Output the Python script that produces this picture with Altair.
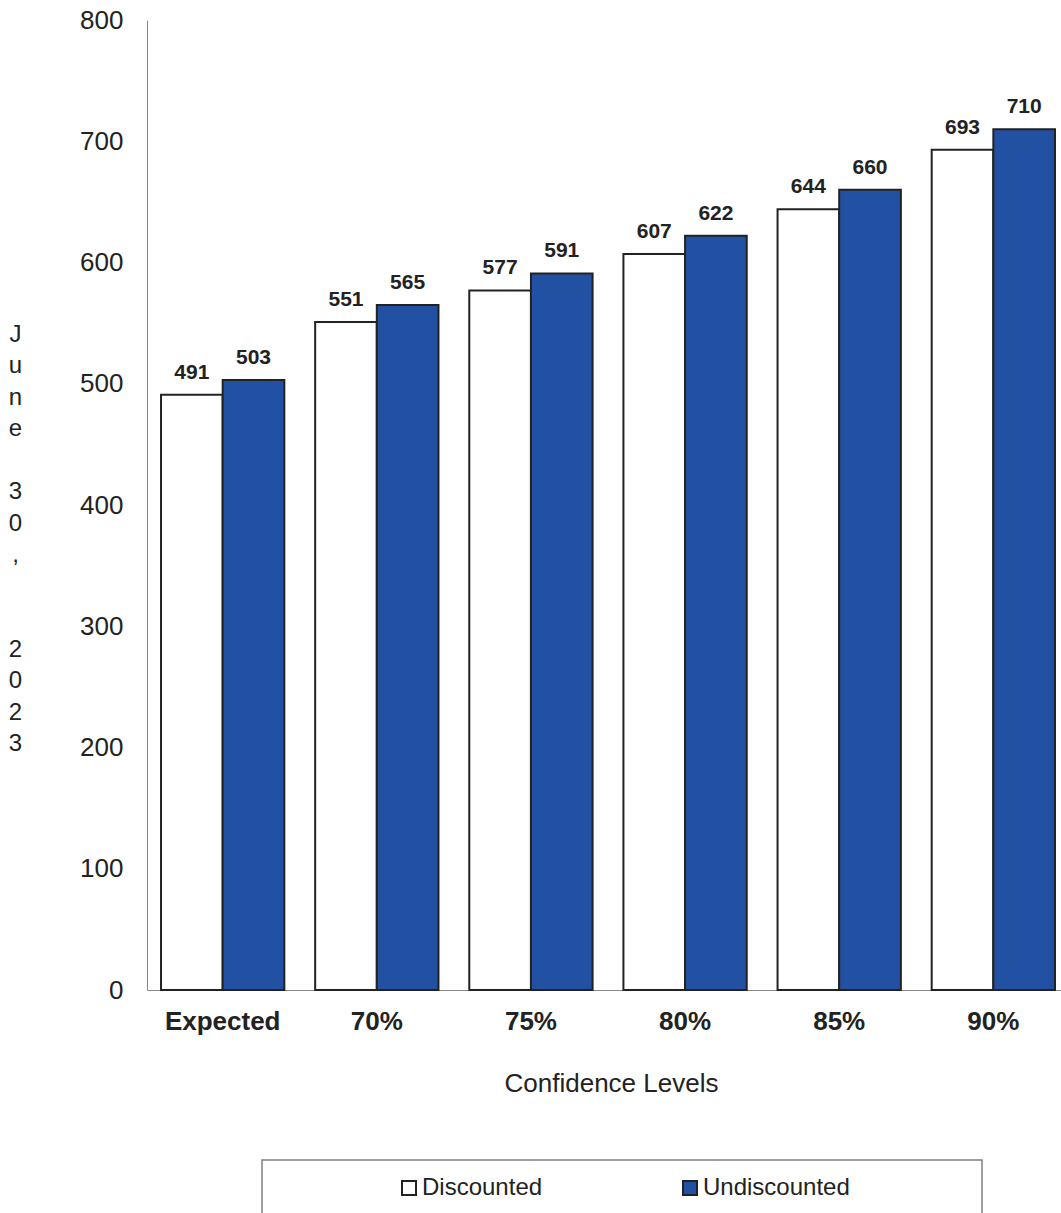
import altair as alt
import pandas as pd

categories = ["Expected", "70%", "75%", "80%", "85%", "90%"]
series = ["Discounted", "Undiscounted"]
discounted = [491, 551, 577, 607, 644, 693]
undiscounted = [503, 565, 591, 622, 660, 710]
y_ticks = [0, 100, 200, 300, 400, 500, 600, 700, 800]
# y title "June 30, 2023", one character per line (blank lines as in the reference)
y_title_lines = ["J", "u", "n", "e", "", "3", "0", ",", "", "", "2", "0", "2", "3"]
x_title_text = "Confidence Levels"
colors = ["#ffffff", "#2251A4"]

rows = []
for c, d, u in zip(categories, discounted, undiscounted):
    rows.append({"level": c, "series": series[0], "value": d})
    rows.append({"level": c, "series": series[1], "value": u})
df = pd.DataFrame(rows)

FONT = "Liberation Sans, Arial, Helvetica, sans-serif"
TXT = "#222222"
BLANK = "\u2800"
title_chars = [ch if ch.strip() else BLANK for ch in y_title_lines]

x_enc = alt.X(
    "level:N",
    sort=categories,
    scale=alt.Scale(paddingInner=0.2, paddingOuter=0.065, align=0.7),
    axis=alt.Axis(
        title=x_title_text,
        labelAngle=0,
        labelFont=FONT,
        labelFontSize=26,
        labelFontWeight="bold",
        labelColor=TXT,
        labelPadding=18,
        ticks=False,
        tickSize=0,
        domainColor="#888888",
        domainWidth=1,
        grid=False,
        titleFont=FONT,
        titleFontSize=26,
        titleFontWeight="normal",
        titleColor=TXT,
        titleX=464,
        titleAlign="center",
        titleY=80,
        titleBaseline="top",
    ),
)
xo_enc = alt.XOffset("series:N", sort=series, scale=alt.Scale(paddingInner=0, paddingOuter=0))
y_enc = alt.Y(
    "value:Q",
    scale=alt.Scale(domain=[0, 800], nice=False, zero=True),
    axis=alt.Axis(
        values=y_ticks,
        title=title_chars,
        titleAngle=0,
        titleX=-132,
        titleY=302,
        titleAlign="center",
        titleBaseline="top",
        titleLineHeight=31.5,
        titleFont=FONT,
        titleFontSize=24,
        titleFontWeight="normal",
        titleColor=TXT,
        labelFont=FONT,
        labelFontSize=26,
        labelColor=TXT,
        labelPadding=24,
        ticks=False,
        tickSize=0,
        domainColor="#888888",
        domainWidth=1,
        grid=False,
    ),
)

base = alt.Chart(df)

bars = base.mark_bar(stroke="#222222", strokeWidth=2).encode(
    x=x_enc,
    xOffset=xo_enc,
    y=y_enc,
    color=alt.Color(
        "series:N",
        sort=series,
        scale=alt.Scale(domain=series, range=colors),
        legend=alt.Legend(
            title=None,
            orient="none",
            legendX=250,
            legendY=1156,
            direction="horizontal",
            columnPadding=135,
            labelOffset=1,
            labelFont=FONT,
            labelFontSize=24,
            labelColor=TXT,
            symbolType="square",
            symbolSize=196,
            symbolStrokeColor="#222222",
            symbolStrokeWidth=2,
            symbolOpacity=1,
            padding=0,
        ),
    ),
)

labels = base.mark_text(
    font=FONT, fontSize=21, fontWeight="bold", color=TXT,
    baseline="alphabetic", align="center", dy=-16,
).encode(
    x=alt.X("level:N", sort=categories),
    xOffset=alt.XOffset("series:N", sort=series),
    y=alt.Y("value:Q"),
    text=alt.Text("value:Q"),
)

frame = alt.Chart(alt.Data(values=[{"k": 1}])).mark_rect(
    fill="transparent", stroke="#808080", strokeWidth=1.5
).encode(
    x=alt.value(115), x2=alt.value(835), y=alt.value(1140), y2=alt.value(1320)
)

chart = alt.layer(bars, labels, frame).properties(
    width=914,
    height=970,
    autosize=alt.AutoSizeParams(type="none"),
    padding={"left": 147, "top": 20, "right": 0, "bottom": 223},
    background="white",
).configure_view(stroke=None)

chart.save("out.html", embed_options={"renderer": "svg", "actions": False})
